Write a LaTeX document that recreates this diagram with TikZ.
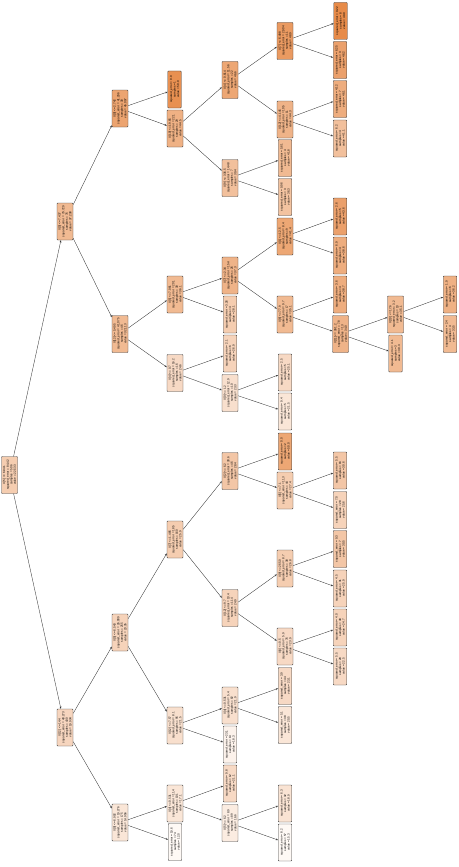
\documentclass[tikz,border=0pt]{standalone}
\usepackage{fontspec}
\setmainfont{Liberation Sans}
\usetikzlibrary{arrows.meta}
\definecolor{sk}{HTML}{E58139}
\newcommand\mkint[5]{\node[intbox, fill=sk!#4!white] (#1) at (#2,-#3) {#5};}
\newcommand\mkleaf[5]{\node[leafbox, fill=sk!#4!white] (#1) at (#2,-#3) {#5};}
\begin{document}
\begin{tikzpicture}[x=1pt,y=1pt,
  basebox/.style={draw=black!75, line width=0.45pt, rounded corners=0.8pt, rotate=90,
    align=center, inner sep=0.4pt, minimum width=37pt,
    font=\fontsize{3}{3.55}\selectfont},
  intbox/.style={basebox, minimum height=16pt},
  leafbox/.style={basebox, minimum height=13.5pt},
  conn/.style={draw=black!80, line width=0.35pt, -{Stealth[length=2.2pt,width=1.8pt]}}]
\useasboundingbox (0,0) rectangle (458,-867);
\mkint{n1}{9.5}{475}{40}{X[5] <= 6.941\\squared\_error = 84.42\\samples = 506\\value = 22.533}
\mkint{n2}{65}{221.5}{55}{X[5] <= 7.437\\squared\_error = 79.729\\samples = 76\\value = 37.238}
\mkint{n3}{65}{727.5}{33}{X[12] <= 14.4\\squared\_error = 40.273\\samples = 430\\value = 19.934}
\mkint{n4}{120}{108.5}{72}{X[0] <= 2.742\\squared\_error = 41.296\\samples = 30\\value = 45.097}
\mkint{n5}{120}{334}{55}{X[12] <= 5.495\\squared\_error = 41.075\\samples = 46\\value = 32.113}
\mkint{n6}{120}{632.5}{35}{X[5] <= 6.543\\squared\_error = 26.009\\samples = 255\\value = 23.35}
\mkint{n7}{120}{822.5}{20}{X[0] <= 6.992\\squared\_error = 19.276\\samples = 175\\value = 14.956}
\mkleaf{n8}{174.5}{89.5}{88}{squared\_error = 0.0\\samples = 1\\value = 50.0}
\mkint{n9}{175}{128.5}{62}{X[10] <= 19.65\\squared\_error = 22.1\\samples = 29\\value = 44.5}
\mkint{n10}{230}{80}{70}{X[4] <= 0.614\\squared\_error = 11.56\\samples = 22\\value = 46.6}
\mkint{n11}{230}{178}{50}{X[9] <= 336.5\\squared\_error = 14.48\\samples = 7\\value = 39.4}
\mkint{n12}{285}{41}{80}{X[7] <= 6.498\\squared\_error = 2.904\\samples = 11\\value = 48.9}
\mkint{n13}{285}{119.5}{60}{X[12] <= 4.145\\squared\_error = 10.5\\samples = 11\\value = 44.3}
\mkleaf{n14}{285}{158}{55}{squared\_error = 5.61\\samples = 4\\value = 41.8}
\mkleaf{n15}{285}{197}{48}{squared\_error = 9.96\\samples = 3\\value = 36.3}
\mkleaf{n16}{340.5}{21}{92}{squared\_error = 0.22\\samples = 8\\value = 49.9}
\mkleaf{n17}{340}{60}{75}{squared\_error = 6.25\\samples = 3\\value = 46.2}
\mkleaf{n18}{340}{99}{65}{squared\_error = 4.12\\samples = 7\\value = 46.1}
\mkleaf{n19}{340}{138.5}{50}{squared\_error = 6.2\\samples = 4\\value = 41.1}
\mkint{n20}{175}{294.5}{55}{X[5] <= 7.061\\squared\_error = 20.1\\samples = 30\\value = 36.1}
\mkint{n21}{175}{373}{30}{X[4] <= 0.7\\squared\_error = 16.2\\samples = 16\\value = 24.6}
\mkint{n22}{230}{275.5}{60}{X[7] <= 2.34\\squared\_error = 15.4\\samples = 26\\value = 37.3}
\mkleaf{n23}{230}{314.5}{40}{squared\_error = 3.26\\samples = 4\\value = 28.1}
\mkleaf{n24}{230}{353.5}{35}{squared\_error = 2.1\\samples = 6\\value = 26.9}
\mkint{n25}{230}{393}{25}{X[0] <= 1.2\\squared\_error = 12.9\\samples = 10\\value = 23.3}
\mkint{n26}{285}{236.5}{70}{X[1] <= 12.5\\squared\_error = 8.4\\samples = 9\\value = 41.4}
\mkint{n27}{285}{314.5}{55}{X[6] <= 77.9\\squared\_error = 9.7\\samples = 17\\value = 35.1}
\mkleaf{n28}{340}{216.5}{75}{squared\_error = 2.6\\samples = 5\\value = 43.6}
\mkleaf{n29}{340}{255.5}{65}{squared\_error = 6.9\\samples = 4\\value = 38.6}
\mkleaf{n30}{340}{294.5}{65}{squared\_error = 3.6\\samples = 4\\value = 38.7}
\mkint{n31}{340.5}{334}{60}{X[11] <= 391.2\\squared\_error = 7.8\\samples = 13\\value = 34.0}
\mkint{n32}{395.5}{314.5}{55}{X[10] <= 17.6\\squared\_error = 3.2\\samples = 10\\value = 35.1}
\mkleaf{n33}{395.5}{353.5}{55}{squared\_error = 4.1\\samples = 3\\value = 30.3}
\mkleaf{n34}{450}{294.5}{62}{squared\_error = 1.9\\samples = 6\\value = 36.2}
\mkleaf{n35}{450}{334}{55}{squared\_error = 2.4\\samples = 4\\value = 33.5}
\mkleaf{n36}{285}{372.5}{30}{squared\_error = 2.5\\samples = 5\\value = 25.1}
\mkleaf{n37}{285}{411.5}{20}{squared\_error = 9.4\\samples = 5\\value = 21.5}
\mkint{n38}{175}{539.5}{40}{X[7] <= 1.485\\squared\_error = 18.5\\samples = 160\\value = 25.9}
\mkint{n39}{175}{725.5}{25}{X[12] <= 7.57\\squared\_error = 8.1\\samples = 95\\value = 21.5}
\mkint{n40}{230}{471}{45}{X[2] <= 6.2\\squared\_error = 30.6\\samples = 46\\value = 28.4}
\mkint{n41}{230}{608}{35}{X[12] <= 9.7\\squared\_error = 10.4\\samples = 114\\value = 24.9}
\mkleaf{n42}{285}{451.5}{70}{squared\_error = 0.0\\samples = 2\\value = 50.0}
\mkint{n43}{285}{490.5}{40}{X[5] <= 7.1\\squared\_error = 11.3\\samples = 44\\value = 27.4}
\mkleaf{n44}{340}{470.5}{45}{squared\_error = 5.5\\samples = 16\\value = 30.6}
\mkleaf{n45}{340}{510}{35}{squared\_error = 7.0\\samples = 28\\value = 25.6}
\mkint{n46}{285}{568.5}{40}{X[9] <= 265.0\\squared\_error = 8.7\\samples = 38\\value = 26.8}
\mkint{n47}{285}{646.5}{30}{X[4] <= 0.5\\squared\_error = 5.9\\samples = 76\\value = 23.9}
\mkleaf{n48}{340}{549}{45}{squared\_error = 9.3\\samples = 7\\value = 30.5}
\mkleaf{n49}{340}{588.5}{35}{squared\_error = 4.5\\samples = 31\\value = 25.9}
\mkleaf{n50}{340}{627.5}{35}{squared\_error = 4.0\\samples = 48\\value = 24.7}
\mkleaf{n51}{340}{666.5}{30}{squared\_error = 5.5\\samples = 28\\value = 22.5}
\mkint{n52}{230}{705.5}{25}{X[4] <= 0.531\\squared\_error = 5.4\\samples = 82\\value = 21.9}
\mkleaf{n53}{230}{744.5}{10}{squared\_error = 23.1\\samples = 13\\value = 18.3}
\mkleaf{n54}{285}{686}{30}{squared\_error = 3.9\\samples = 44\\value = 23.1}
\mkleaf{n55}{285}{725}{20}{squared\_error = 5.1\\samples = 38\\value = 20.5}
\mkint{n56}{175}{803.5}{20}{X[4] <= 0.531\\squared\_error = 11.4\\samples = 101\\value = 17.1}
\mkleaf{n57}{175}{842}{5}{squared\_error = 19.6\\samples = 74\\value = 12.0}
\mkleaf{n58}{230}{783.5}{30}{squared\_error = 9.8\\samples = 12\\value = 21.1}
\mkint{n59}{230}{823}{15}{X[5] <= 6.2\\squared\_error = 8.9\\samples = 89\\value = 16.6}
\mkleaf{n60}{285}{803.5}{22}{squared\_error = 6.3\\samples = 32\\value = 18.9}
\mkleaf{n61}{285}{842.5}{5}{squared\_error = 8.2\\samples = 57\\value = 15.3}
\foreach \a/\b in {n1/n2,n1/n3,n2/n4,n2/n5,n3/n6,n3/n7,n4/n8,n4/n9,n9/n10,n9/n11,
  n10/n12,n10/n13,n12/n16,n12/n17,n13/n18,n13/n19,n11/n14,n11/n15,
  n5/n20,n5/n21,n20/n22,n20/n23,n22/n26,n22/n27,n26/n28,n26/n29,n27/n30,n27/n31,
  n31/n32,n31/n33,n32/n34,n32/n35,n21/n24,n21/n25,n25/n36,n25/n37,
  n6/n38,n6/n39,n38/n40,n38/n41,n40/n42,n40/n43,n43/n44,n43/n45,n41/n46,n41/n47,
  n46/n48,n46/n49,n47/n50,n47/n51,n39/n52,n39/n53,n52/n54,n52/n55,
  n7/n56,n7/n57,n56/n58,n56/n59,n59/n60,n59/n61}
  \draw[conn] (\a) -- (\b);
\end{tikzpicture}
\end{document}
